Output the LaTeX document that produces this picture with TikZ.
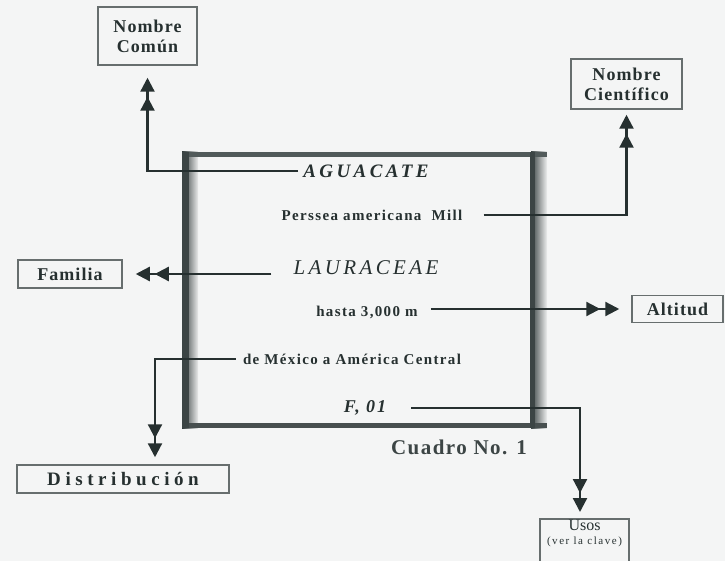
\documentclass[tikz,border=0pt]{standalone}
\usepackage{fontspec}
\setmainfont{Liberation Serif}
\usetikzlibrary{arrows.meta}
\definecolor{ink}{HTML}{263030}
\definecolor{paper}{HTML}{F4F5F5}
\begin{document}
\begin{tikzpicture}[x=1pt,y=-1pt,
  box/.style={draw=ink!70, line width=1.5pt, text=ink, align=center, inner sep=0pt,
    font=\bfseries\fontsize{18}{20}\selectfont\addfontfeature{LetterSpace=6}},
  txt/.style={text=ink, inner sep=0pt, anchor=center,
    font=\bfseries\fontsize{15}{17}\selectfont\addfontfeature{LetterSpace=9}},
  itx/.style={text=ink, inner sep=0pt, anchor=center,
    font=\bfseries\itshape\fontsize{19}{22}\selectfont\addfontfeature{LetterSpace=18}},
  conn/.style={draw=ink, line width=2.3pt},
  dbl/.style={-{Triangle[length=14pt,width=14pt,sep=5pt]Triangle[length=14pt,width=14pt]}}
]
\useasboundingbox (0,0) rectangle (725,561);
\fill[paper] (0,0) rectangle (725,561);

% frame
\fill[left color=ink!95, right color=ink!10] (182,152) rectangle (198,428);
\fill[left color=ink!90, right color=ink!8] (531,152) rectangle (547,428);
\fill[ink!80] (182,152) rectangle (547,157);
\fill[ink!85] (182,423) rectangle (547,428);
\fill[ink!90] (182,152) rectangle (189,428);
\fill[ink!90] (530,152) rectangle (535,428);

% boxes
\node[box, minimum width=99pt, minimum height=58pt] (comun) at (147.5,36) {Nombre\\Común};
\node[box, minimum width=111pt, minimum height=50pt] (cient) at (626.5,84) {Nombre\\Científico};
\node[box, minimum width=104pt, minimum height=28pt] (familia) at (70,274) {Familia};
\node[box, minimum width=91pt, minimum height=27pt] (altitud) at (677.5,309) {Altitud};
\node[box, minimum width=212pt, minimum height=28pt,
  font=\bfseries\fontsize{19}{20}\selectfont\addfontfeature{LetterSpace=24}] (distrib) at (123,479) {Distribución};
\node[box, minimum width=89pt, minimum height=50pt, anchor=north] (usos) at (584.5,518) {};
\node[text=ink, inner sep=0pt, align=center, anchor=north,
  font=\fontsize{16}{16}\selectfont] (usostxt) at ([yshift=-2pt]usos.north) {Usos\\[-2pt]{\fontsize{11}{12}\selectfont\addfontfeature{LetterSpace=14}(ver la clave)}};

% texts in frame
\node[itx] (agua) at (366,171) {AGUACATE};
\node[txt] (perssea) at (372,215) {Perssea americana\ \ Mill};
\node[itx, font=\itshape\fontsize{21}{24}\selectfont\addfontfeature{LetterSpace=16}] (laur) at (366,268) {LAURACEAE};
\node[txt] (hasta) at (367,312) {hasta 3,000 m};
\node[txt] (mex) at (352,359) {de México a América Central};
\node[itx, font=\bfseries\itshape\fontsize{18}{22}\selectfont\addfontfeature{LetterSpace=10}] (f01) at (365,408) {F, 01};
\node[text=ink!90, inner sep=0pt, font=\bfseries\fontsize{21}{25}\selectfont\addfontfeature{LetterSpace=7}] (cuadro) at (459,447) {Cuadro No. 1};

% connectors
\coordinate (lstart) at ([xshift=-22pt]laur.west);
\coordinate (hstart) at ([xshift=13pt]hasta.east);
\draw[conn, dbl, shorten >=12pt] ([xshift=-5pt]agua.west) -| (comun.south);
\draw[conn, dbl, shorten >=5pt] ([xshift=21pt]perssea.east) -| (cient.south);
\draw[conn, dbl, shorten >=13pt] (lstart |- familia.east) -- (familia.east);
\draw[conn, dbl, shorten >=12pt] (hstart |- altitud.west) -- (altitud.west);
\draw[conn, dbl, shorten >=7pt] ([xshift=-7pt]mex.west) -| ([xshift=32pt]distrib.north);
\draw[conn, dbl, shorten >=6pt] ([xshift=25pt]f01.east) -| ([xshift=-4.5pt]usos.north);
\end{tikzpicture}
\end{document}
